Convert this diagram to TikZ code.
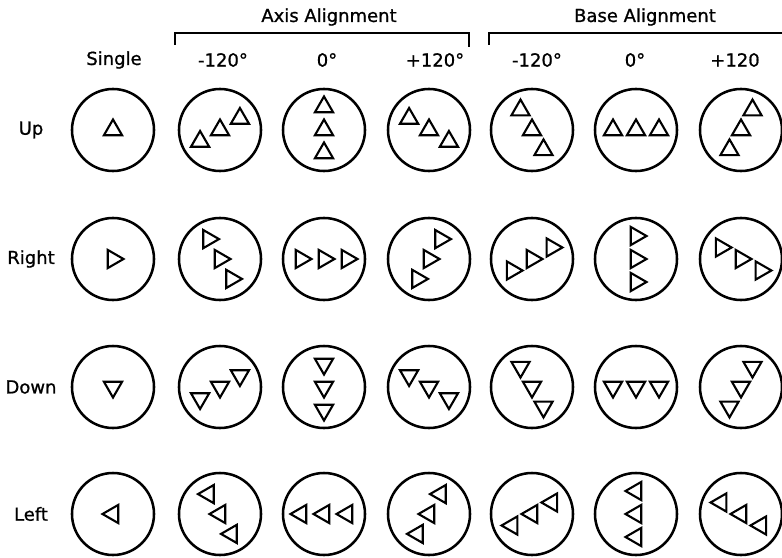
\documentclass[tikz,border=0pt]{standalone}
\usepackage{fontspec}
\setmainfont{DejaVu Sans}
\newfontfamily\letterfont{DejaVu Sans}[FakeBold=0.9]

\begin{document}
\begin{tikzpicture}[x=0.025cm, y=0.025cm,
    dial/.style={draw, circle, line width=1.8pt, minimum size=2.05cm, inner sep=0pt},
    lbl/.style={font=\letterfont\fontsize{12.8}{15}\selectfont, inner sep=0pt},
    brk/.style={line width=1.5pt},
    tri/.pic={\draw[line width=1.5pt, line join=miter]
      (90:10.5) -- (210:10.5) -- (330:10.5) -- cycle;},
  ]
  \useasboundingbox (0,0) rectangle (782,-558);

  \node[lbl] (axis) at (329,-17) {Axis Alignment};
  \node[lbl] (base) at (645,-17) {Base Alignment};
  \draw[brk] (175,-45) |- (469,-33) -- (469,-47);
  \draw[brk] (489,-45) |- (782,-33);

  \foreach \x/\txt [count=\c] in {114/Single, 223/-120°, 327/0°, 435/+120°,
      537/-120°, 635/0°, 735/+120}
    \node[lbl] (h\c) at (\x,-60) {\txt};

  \foreach \name/\y/\rot/\angles [count=\r] in {Up/130/0/{30,90,-30,-60,0,60},
      Right/259/-90/{-60,0,60,30,90,-30}, Down/387/180/{30,90,-30,-60,0,60},
      Left/514/90/{-60,0,60,30,90,-30}} {
    \node[lbl] (r\r) at (31,-\y) {\name};
    \node[dial] (c\r-1) at (113,-\y) {};
    \pic[rotate=\rot] at (c\r-1) {tri};
    \foreach \a [count=\c from 2] in \angles {
      \pgfmathsetmacro\cx{{113,220,324,429,532,636,741}[\c-1]}
      \node[dial] (c\r-\c) at (\cx,-\y) {};
      \foreach \k in {-1,0,1}
        \pic[rotate=\rot] at ([shift={(\a:23*\k)}]c\r-\c) {tri};
    }
  }
\end{tikzpicture}
\end{document}
